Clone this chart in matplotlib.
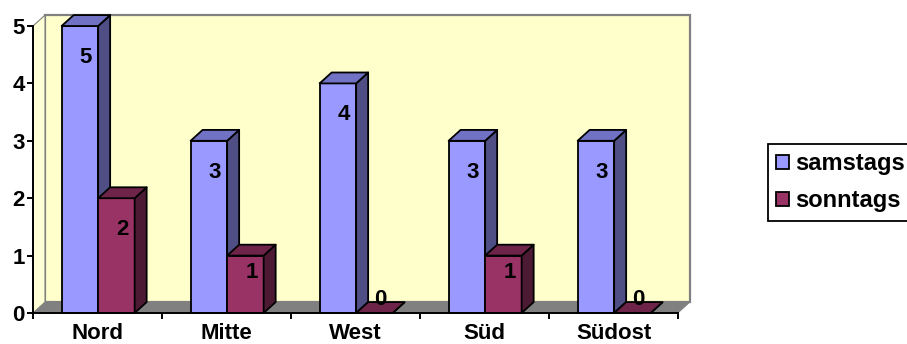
import matplotlib.pyplot as plt
from matplotlib.patches import Polygon, Patch

regions = ["Nord", "Mitte", "West", "Süd", "Südost"]
samstags = [5, 3, 4, 3, 3]
sonntags = [2, 1, 0, 1, 0]
series_names = ["samstags", "sonntags"]

# front / side / top shades per series
colors = [("#9999FF", "#4F4F85", "#7272C4"),
          ("#993366", "#4D1A33", "#6E2449")]

plt.rcParams['font.family'] = ['Liberation Sans', 'DejaVu Sans']
fs = 16

fig = plt.figure(figsize=(9.07, 3.44), dpi=100)
ax = fig.add_axes([33 / 907, 31 / 344, 645 / 907, 287 / 344])
ax.set_xlim(0, 5)
ax.set_ylim(0, 5)

dx, dy = 0.093, 0.19   # depth offset in data units
n = len(regions)

# back wall, floor and side wall
ax.add_patch(Polygon([(dx, dy), (n + dx, dy), (n + dx, 5 + dy), (dx, 5 + dy)],
                     closed=True, facecolor="#FFFFCC", edgecolor="#808080",
                     lw=1.6, clip_on=False, zorder=1))
ax.add_patch(Polygon([(0, 0), (n, 0), (n + dx, dy), (dx, dy)],
                     closed=True, facecolor="#808080", edgecolor="#808080",
                     lw=0.5, clip_on=False, zorder=2))
ax.add_patch(Polygon([(0, 0), (dx, dy), (dx, 5 + dy), (0, 5)],
                     closed=True, facecolor="#FFFFD6", edgecolor="#808080",
                     lw=0.8, clip_on=False, zorder=2))


def bar3d(x0, w, h, shades):
    front, side, top = shades
    kw = dict(closed=True, edgecolor="black", lw=1.3, clip_on=False,
              joinstyle="round", zorder=3)
    ax.add_patch(Polygon([(x0, 0), (x0 + w, 0), (x0 + w, h), (x0, h)],
                         facecolor=front, **kw))
    ax.add_patch(Polygon([(x0 + w, 0), (x0 + w + dx, dy), (x0 + w + dx, h + dy),
                          (x0 + w, h)], facecolor=side, **kw))
    ax.add_patch(Polygon([(x0, h), (x0 + w, h), (x0 + w + dx, h + dy),
                          (x0 + dx, h + dy)], facecolor=top, **kw))


bw = 0.283
for i in range(n):
    for k, vals in enumerate([samstags, sonntags]):
        x0 = i + 0.222 + k * bw
        v = vals[i]
        bar3d(x0, bw, v, colors[k])
        ly = max(v - 0.55, 0.23 + 0.47 * v)
        ax.text(x0 + bw / 2 + dx / 2, ly, str(v), ha="center", va="center",
                fontsize=fs, fontweight="bold", color="black", zorder=5)

# axes
for s in ["top", "right"]:
    ax.spines[s].set_visible(False)
for s in ["left", "bottom"]:
    ax.spines[s].set_linewidth(1.4)
    ax.spines[s].set_zorder(6)
ax.set_yticks(range(6))
ax.set_xticks(range(n + 1))
ax.set_xticklabels([])
ax.set_xticks([i + 0.5 for i in range(n)], minor=True)
ax.set_xticklabels(regions, minor=True, fontsize=fs, fontweight="bold")
ax.tick_params(axis="x", which="minor", length=0, pad=7)
ax.tick_params(axis="x", which="major", direction="inout", length=8, width=1.4)
ax.tick_params(axis="y", direction="out", length=4, width=1.4, pad=2)
for lab in ax.get_yticklabels():
    lab.set_fontsize(fs)
    lab.set_fontweight("bold")
ax.patch.set_visible(False)

handles = [Patch(facecolor=colors[k][0], edgecolor="black", lw=1.3)
           for k in range(2)]
leg = fig.legend(handles, series_names, loc="upper left",
                 bbox_to_anchor=(768 / 907, 1 - 144 / 344), borderaxespad=0,
                 fancybox=False, edgecolor="black", framealpha=1,
                 handlelength=0.55, handleheight=0.55, handletextpad=0.25,
                 borderpad=0.35, labelspacing=0.6,
                 prop={"size": 17, "weight": "bold"})
leg.get_frame().set_linewidth(1.3)

fig.savefig("out.png", dpi=100)
